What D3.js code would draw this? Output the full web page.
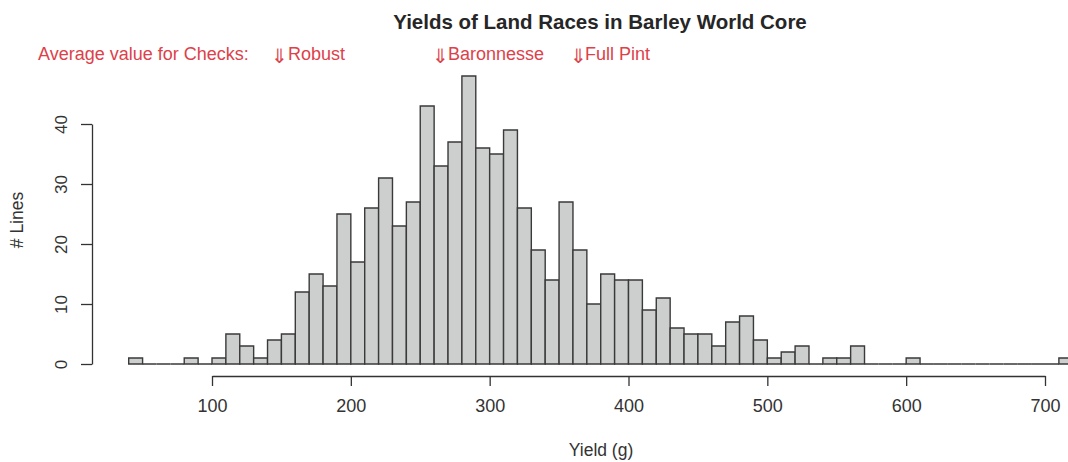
<!DOCTYPE html>
<html>
<head>
<meta charset="utf-8">
<script src="https://cdn.jsdelivr.net/npm/d3@7"></script>
<style>
  body { margin: 0; background: #fff; }
  svg { font-family: "Liberation Sans", Arial, sans-serif; }
</style>
</head>
<body>
<div id="chart"></div>
<script>
// Histogram bins (lower edge, width 10) and counts
var binStarts = [40, 50, 60, 70, 80, 90, 100, 110, 120, 130, 140, 150, 160, 170, 180, 190,
  200, 210, 220, 230, 240, 250, 260, 270, 280, 290, 300, 310, 320, 330, 340, 350, 360,
  370, 380, 390, 400, 410, 420, 430, 440, 450, 460, 470, 480, 490, 500, 510, 520, 530,
  540, 550, 560, 570, 580, 590, 600, 610, 620, 630, 640, 650, 660, 670, 680, 690, 700, 710];
var counts = [1, 0, 0, 0, 1, 0, 1, 5, 3, 1, 4, 5, 12, 15, 13, 25,
  17, 26, 31, 23, 27, 43, 33, 37, 48, 36, 35, 39, 26, 19, 14, 27, 19,
  10, 15, 14, 14, 9, 11, 6, 5, 5, 3, 7, 8, 4, 1, 2, 3, 0,
  1, 1, 3, 0, 0, 0, 1, 0, 0, 0, 0, 0, 0, 0, 0, 0, 0, 1];
var binWidth = 10;
var xTicks = [100, 200, 300, 400, 500, 600, 700];
var yTicks = [0, 10, 20, 30, 40];
var checkLabels = ["Robust", "Baronnesse", "Full Pint"];
var checkArrowX = [271, 432, 570];
var checkLabelX = [288, 448, 585];

var svgWidth = 1068;
var svgHeight = 462;
var red = "#dd4149";
var ink = "#333333";

var svg = d3.select("#chart")
  .append("svg")
  .attr("width", svgWidth)
  .attr("height", svgHeight);

var x = d3.scaleLinear().domain([100, 700]).range([212, 1045]);
var y = d3.scaleLinear().domain([0, 40]).range([364, 124]);

// bars (paths so that empty bins still leave their line on the baseline)
var bins = binStarts.map(function(b, i) { return { x0: b, x1: b + binWidth, n: counts[i] }; });

svg.append("g")
  .selectAll("path")
  .data(bins)
  .enter()
  .append("path")
  .attr("d", function(d) {
    var l = x(d.x0), r = x(d.x1), t = y(d.n), b = y(0);
    return "M" + l + "," + b + "V" + t + "H" + r + "V" + b + "Z";
  })
  .attr("fill", "#cdcece")
  .attr("stroke", "#3a3a3a")
  .attr("stroke-width", 1.4);

// x axis
var xAxis = d3.axisBottom(x).tickValues(xTicks).tickSize(10).tickPadding(13).tickSizeOuter(0);
var gx = svg.append("g")
  .attr("transform", "translate(0,376)")
  .call(xAxis);
gx.select(".domain").attr("stroke", ink).attr("stroke-width", 1.3);
gx.selectAll(".tick line").attr("stroke", ink).attr("stroke-width", 1.3);
gx.selectAll(".tick text")
  .attr("fill", ink)
  .style("font-size", "18px");

// y axis
var yAxis = d3.axisLeft(y).tickValues(yTicks).tickSize(11).tickSizeOuter(0);
var gy = svg.append("g")
  .attr("transform", "translate(92,0)")
  .call(yAxis);
gy.select(".domain").attr("stroke", ink).attr("stroke-width", 1.3);
gy.selectAll(".tick line").attr("stroke", ink).attr("stroke-width", 1.3);
gy.selectAll(".tick text")
  .attr("fill", ink)
  .attr("x", null)
  .attr("dy", null)
  .attr("text-anchor", "middle")
  .attr("transform", "translate(-25,0) rotate(-90)")
  .style("font-size", "17px");

// titles
svg.append("text")
  .attr("x", 600)
  .attr("y", 29)
  .attr("text-anchor", "middle")
  .attr("font-weight", "bold")
  .attr("font-size", "20.5px")
  .attr("fill", "#262626")
  .text("Yields of Land Races in Barley World Core");

svg.append("text")
  .attr("x", 601)
  .attr("y", 456)
  .attr("text-anchor", "middle")
  .attr("font-size", "17.5px")
  .attr("fill", ink)
  .text("Yield (g)");

svg.append("text")
  .attr("transform", "translate(23,220) rotate(-90)")
  .attr("text-anchor", "middle")
  .attr("font-size", "17.5px")
  .attr("fill", ink)
  .text("# Lines");

// check annotations
svg.append("text")
  .attr("x", 38)
  .attr("y", 60)
  .attr("font-size", "18px")
  .attr("fill", red)
  .text("Average value for Checks:");

var checks = svg.append("g")
  .selectAll("g")
  .data(checkLabels)
  .enter()
  .append("g");

checks.append("text")
  .attr("x", function(d, i) { return checkArrowX[i]; })
  .attr("y", 63)
  .attr("font-size", "20px")
  .attr("fill", red)
  .text("\u21d3");

checks.append("text")
  .attr("x", function(d, i) { return checkLabelX[i]; })
  .attr("y", 60)
  .attr("font-size", "18px")
  .attr("fill", red)
  .text(function(d) { return d; });
</script>
</body>
</html>
